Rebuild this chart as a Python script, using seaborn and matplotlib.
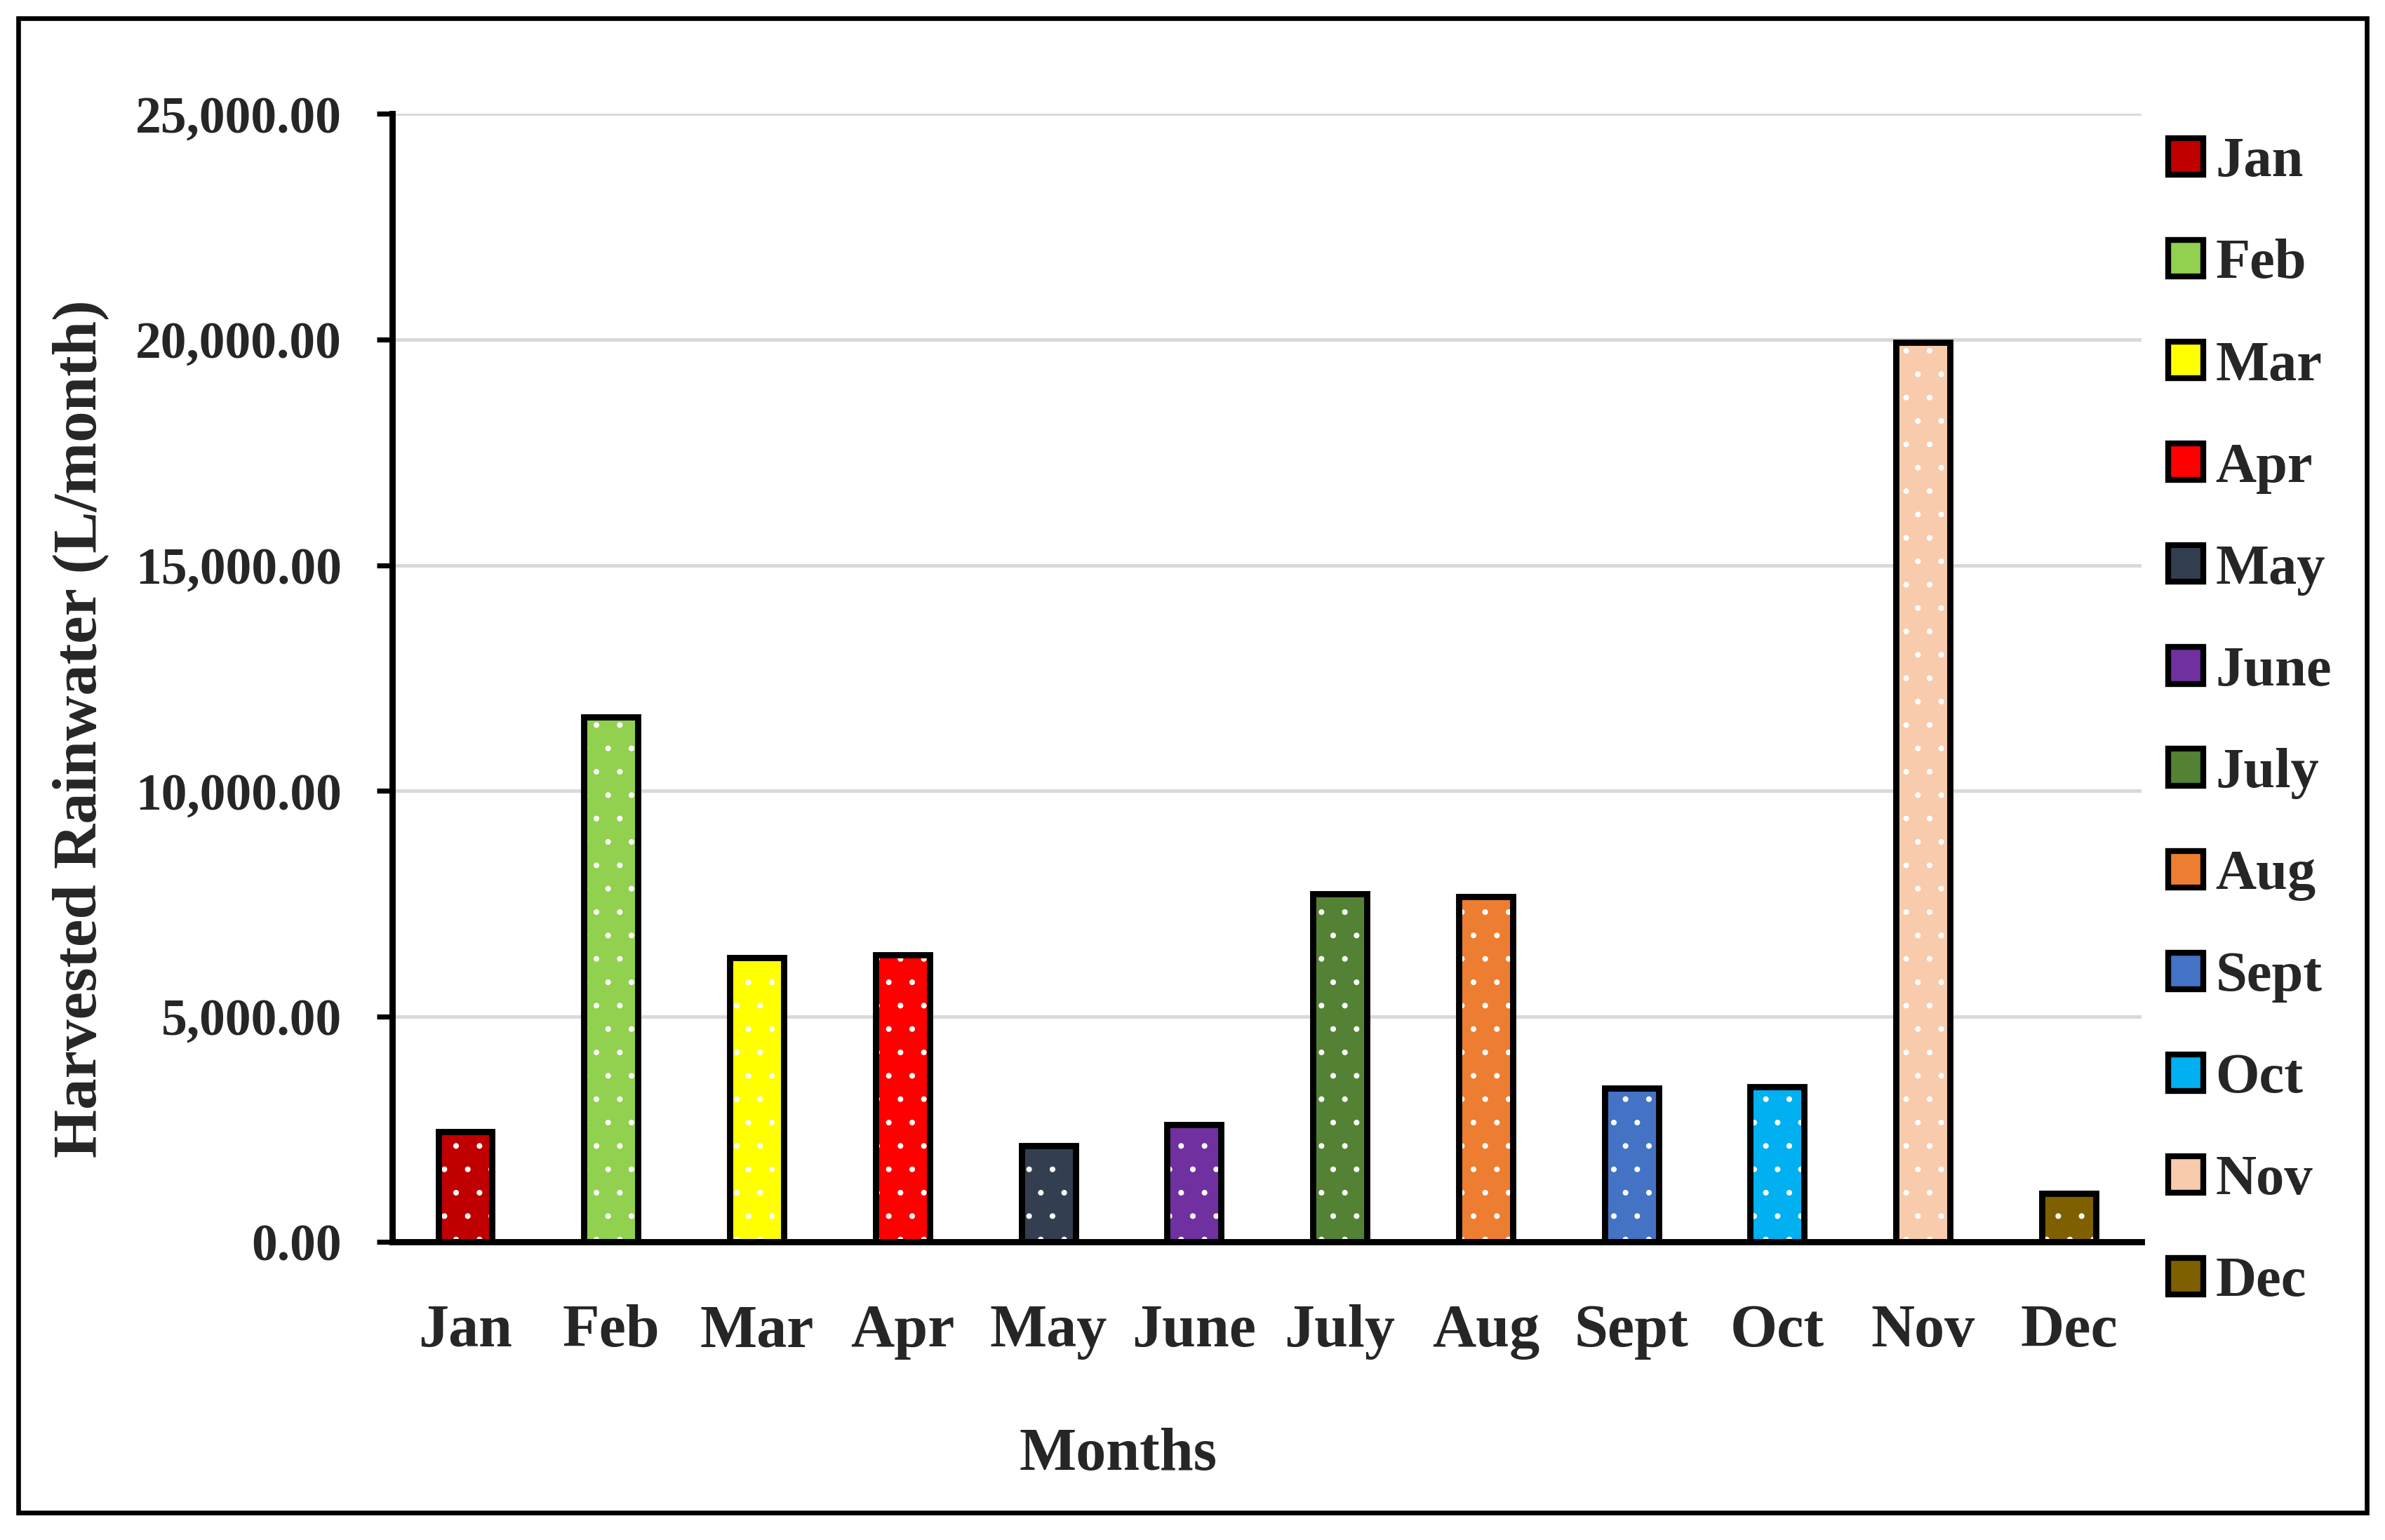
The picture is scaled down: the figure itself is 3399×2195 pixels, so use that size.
import matplotlib
matplotlib.use("Agg")
import matplotlib.pyplot as plt
import seaborn as sns
from matplotlib.patches import Patch, Rectangle
from matplotlib.ticker import StrMethodFormatter

# Harvested rainwater per month (L/month)
months = ["Jan", "Feb", "Mar", "Apr", "May", "June", "July", "Aug", "Sept", "Oct", "Nov", "Dec"]
rainwater = [2440, 11630, 6300, 6370, 2130, 2600, 7720, 7660, 3410, 3440, 19940, 1080]
colors = ["#C00000", "#92D050", "#FFFF00", "#FF0000", "#333F50", "#7030A0",
          "#548235", "#ED7D31", "#4472C4", "#00B0F0", "#F8CBAD", "#7F6000"]
y_ticks = [0, 5000, 10000, 15000, 20000, 25000]

sns.set_theme(style="white")
plt.rcParams["font.family"] = ["Liberation Serif", "DejaVu Serif"]
plt.rcParams["font.weight"] = "bold"
plt.rcParams["hatch.linewidth"] = 0.5

fig = plt.figure(figsize=(16.995, 10.975), dpi=200)
ax = fig.add_axes([0.1645, 0.1935, 0.898 - 0.1645, 0.926 - 0.1935])

sns.barplot(x=months, y=rainwater, hue=months, palette=colors, order=months,
            width=0.37, saturation=1, legend=False, ax=ax)

bars = list(ax.patches)
for p in bars:
    p.set_hatch(".")
    p.set_edgecolor("white")
    p.set_linewidth(0)
    ax.add_patch(Rectangle(p.get_xy(), p.get_width(), p.get_height(), fill=False,
                           edgecolor="black", linewidth=3.2, zorder=p.get_zorder() + 0.1))

ax.set_xlim(-0.5, len(months) - 0.5)
ax.set_ylim(0, 25000)
ax.set_yticks(y_ticks)
ax.yaxis.set_major_formatter(StrMethodFormatter("{x:,.2f}"))
ax.yaxis.grid(True, color="#d9d9d9", linewidth=1.8)
ax.set_axisbelow(True)

for side in ["top", "right"]:
    ax.spines[side].set_visible(False)
for side in ["left", "bottom"]:
    ax.spines[side].set_linewidth(3.2)
    ax.spines[side].set_color("black")

ax.tick_params(axis="y", left=True, length=8, width=2.6, color="black", pad=18,
               labelsize=26.5)
ax.tick_params(axis="x", bottom=False, pad=26, labelsize=31)
for lab in ax.get_xticklabels() + ax.get_yticklabels():
    lab.set_fontweight("bold")

ax.set_xlabel("Months", fontsize=31, fontweight="bold")
ax.set_ylabel("Harvested Rainwater (L/month)", fontsize=32, fontweight="bold")
ax.xaxis.set_label_coords(0.415, -0.1645)
ax.yaxis.set_label_coords(-0.162, 0.455)

handles = [Patch(facecolor=c, edgecolor="black", linewidth=3.0) for c in colors]
fig.legend(handles, months, loc="upper left", bbox_to_anchor=(0.909, 0.911),
           frameon=False, fontsize=29, handlelength=0.62, handleheight=0.62,
           handletextpad=0.22, labelspacing=0.895, borderpad=0, borderaxespad=0)

# outer frame around the whole figure
fig.add_artist(Rectangle((0.0077, 0.0178), 0.9846, 0.9704, transform=fig.transFigure,
                         fill=False, edgecolor="black", linewidth=2.4))

fig.savefig("out.png", dpi=200, facecolor="white")
